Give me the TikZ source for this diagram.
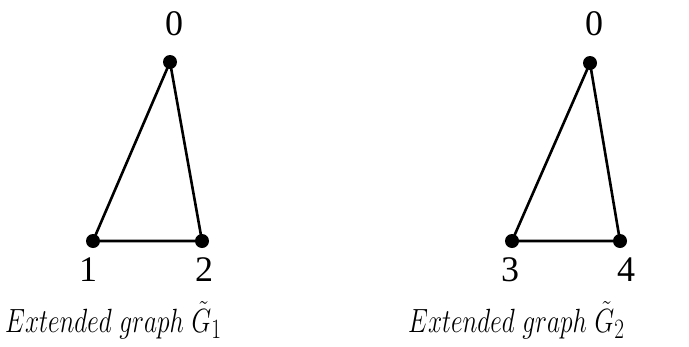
\documentclass[tikz,border=0pt]{standalone}
\usepackage{fontspec}
\newfontfamily\digitfont{Liberation Serif}
\begin{document}
\begin{tikzpicture}[x=1pt,y=-1pt,
  vtx/.style={circle,fill=black,inner sep=0pt,minimum size=14pt},
  lbl/.style={inner sep=0pt,font=\digitfont\fontsize{36}{36}\selectfont},
  captext/.style={inner sep=0pt,anchor=base west,font=\fontsize{24.88}{26}\selectfont},
  edge/.style={line width=2.6pt}]
\useasboundingbox (0,0) rectangle (689,346);
% left graph
\node[vtx] (a0) at (170,62) {};
\node[vtx] (a1) at (93,241) {};
\node[vtx] (a2) at (202,241) {};
\draw[edge] (a0.center) -- (a1.center) -- (a2.center) -- cycle;
\node[lbl] (la0) at (174,24) {0};
\node[lbl] (la1) at (88,270) {1};
\node[lbl] (la2) at (204,270) {2};
\node[captext] (ca) at (5,332) {\scalebox{1.02}[1.35]{$Extended\ graph\ \tilde{G}_1$}};
% right graph
\node[vtx] (b0) at (590,63) {};
\node[vtx] (b3) at (512,241) {};
\node[vtx] (b4) at (620,241) {};
\draw[edge] (b0.center) -- (b3.center) -- (b4.center) -- cycle;
\node[lbl] (lb0) at (594,24) {0};
\node[lbl] (lb3) at (510,270) {3};
\node[lbl] (lb4) at (626,270) {4};
\node[captext] (cb) at (408,332) {\scalebox{1.02}[1.35]{$Extended\ graph\ \tilde{G}_2$}};
\end{tikzpicture}
\end{document}
